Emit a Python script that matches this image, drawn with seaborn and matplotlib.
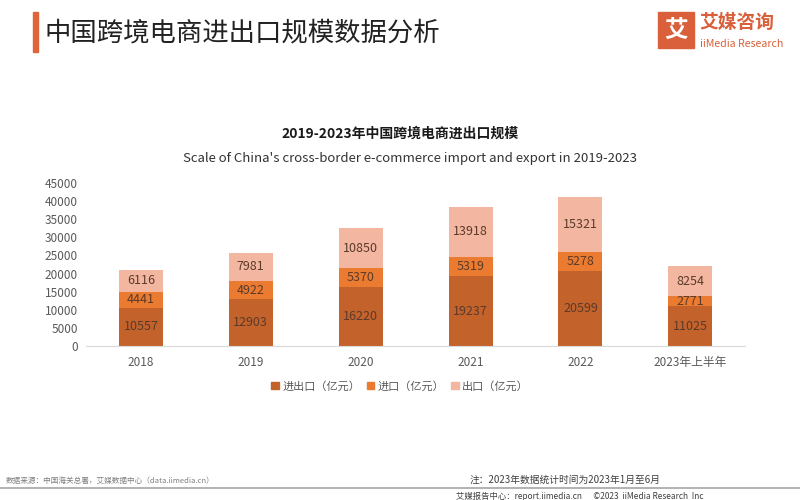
import numpy as np
import pandas as pd
import seaborn as sns
import matplotlib.pyplot as plt
from matplotlib.patches import Rectangle

# Data (亿元)
years = ['2018', '2019', '2020', '2021', '2022', '2023年上半年']
jinchukou = [10557, 12903, 16220, 19237, 20599, 11025]   # bottom segment
jinkou = [4441, 4922, 5370, 5319, 5278, 2771]           # middle segment
chukou = [6116, 7981, 10850, 13918, 15321, 8254]        # top segment
yticks = list(range(0, 45001, 5000))
legend_labels = ['进出口（亿元）', '进口（亿元）', '出口（亿元）']

colors = ['#C4622B', '#EB7B31', '#F3B7A1']
label_color = '#5B3A2A'

sns.set_style('white')
plt.rcParams['font.family'] = ['Noto Sans CJK SC', 'DejaVu Sans']

df = pd.DataFrame({'year': years, 'a': jinchukou, 'b': jinkou, 'c': chukou})
df['ab'] = df['a'] + df['b']
df['abc'] = df['ab'] + df['c']

fig = plt.figure(figsize=(8, 5), dpi=100)
ax = fig.add_axes([0.1075, 0.308, 0.824, 0.326])

# stacked bars by overdrawing cumulative totals
sns.barplot(data=df, x='year', y='abc', color=colors[2], width=0.4, saturation=1, linewidth=0, ax=ax)
sns.barplot(data=df, x='year', y='ab', color=colors[1], width=0.4, saturation=1, linewidth=0, ax=ax)
sns.barplot(data=df, x='year', y='a', color=colors[0], width=0.4, saturation=1, linewidth=0, ax=ax)

# segment labels
for i, row in df.iterrows():
    ax.text(i, row['a'] / 2, str(row['a']), ha='center', va='center', fontsize=9, color=label_color)
    ax.text(i, row['a'] + row['b'] / 2, str(row['b']), ha='center', va='center', fontsize=9, color=label_color)
    ax.text(i, row['ab'] + row['c'] / 2, str(row['c']), ha='center', va='center', fontsize=9, color=label_color)

ax.set_xlim(-0.5, 5.5)
ax.set_ylim(0, 45000)
ax.set_yticks(yticks)
ax.set_xlabel('')
ax.set_ylabel('')
ax.tick_params(axis='both', labelsize=8.5, labelcolor='#595959', length=0)
ax.tick_params(axis='x', pad=7)
ax.tick_params(axis='y', pad=6)
for s in ['top', 'right', 'left']:
    ax.spines[s].set_visible(False)
ax.spines['bottom'].set_color('#D9D9D9')

# legend
handles = [Rectangle((0, 0), 1, 1, color=c) for c in colors]
fig.legend(handles, legend_labels, loc='center', bbox_to_anchor=(0.5, 0.228), ncol=3,
           frameon=False, fontsize=8, handlelength=0.7, handleheight=0.7,
           handletextpad=0.3, columnspacing=0.6, labelcolor='#595959')

# header
fig.patches.append(Rectangle((0.041, 0.896), 0.007, 0.08, transform=fig.transFigure,
                             color='#E0643A', zorder=3))
fig.text(0.056, 0.934, '中国跨境电商进出口规模数据分析', fontsize=19, color='#222222',
         ha='left', va='center')

# logo
fig.patches.append(Rectangle((0.822, 0.905), 0.045, 0.07, transform=fig.transFigure,
                             color='#D9603B', zorder=3))
fig.text(0.8445, 0.94, '艾', fontsize=17, color='white', ha='center', va='center',
         fontweight='bold', zorder=4)
fig.text(0.874, 0.955, '艾媒咨询', fontsize=13.5, color='#D9603B', ha='left', va='center',
         fontweight='bold')
fig.text(0.875, 0.912, 'iiMedia Research', fontsize=7.6, color='#D9603B', ha='left', va='center')

# chart titles
fig.text(0.5, 0.733, '2019-2023年中国跨境电商进出口规模', fontsize=10, fontweight='bold',
         color='#1a1a1a', ha='center', va='center')
fig.text(0.513, 0.683, "Scale of China's cross-border e-commerce import and export in 2019-2023",
         fontsize=9.5, color='#333333', ha='center', va='center')

# footer
fig.text(0.007, 0.038, '数据来源：中国海关总署，艾媒数据中心（data.iimedia.cn）', fontsize=5.5,
         color='#7F7F7F', ha='left', va='center')
fig.text(0.587, 0.041, '注：2023年数据统计时间为2023年1月至6月', fontsize=7,
         color='#404040', ha='left', va='center')
fig.add_artist(plt.Line2D([0, 1], [0.024, 0.024], transform=fig.transFigure, color='#A6A6A6', lw=1.2))
fig.text(0.57, 0.008, '艾媒报告中心：report.iimedia.cn      ©2023  iiMedia Research  Inc',
         fontsize=6, color='#404040', ha='left', va='center')

fig.savefig('out.png', dpi=100)
